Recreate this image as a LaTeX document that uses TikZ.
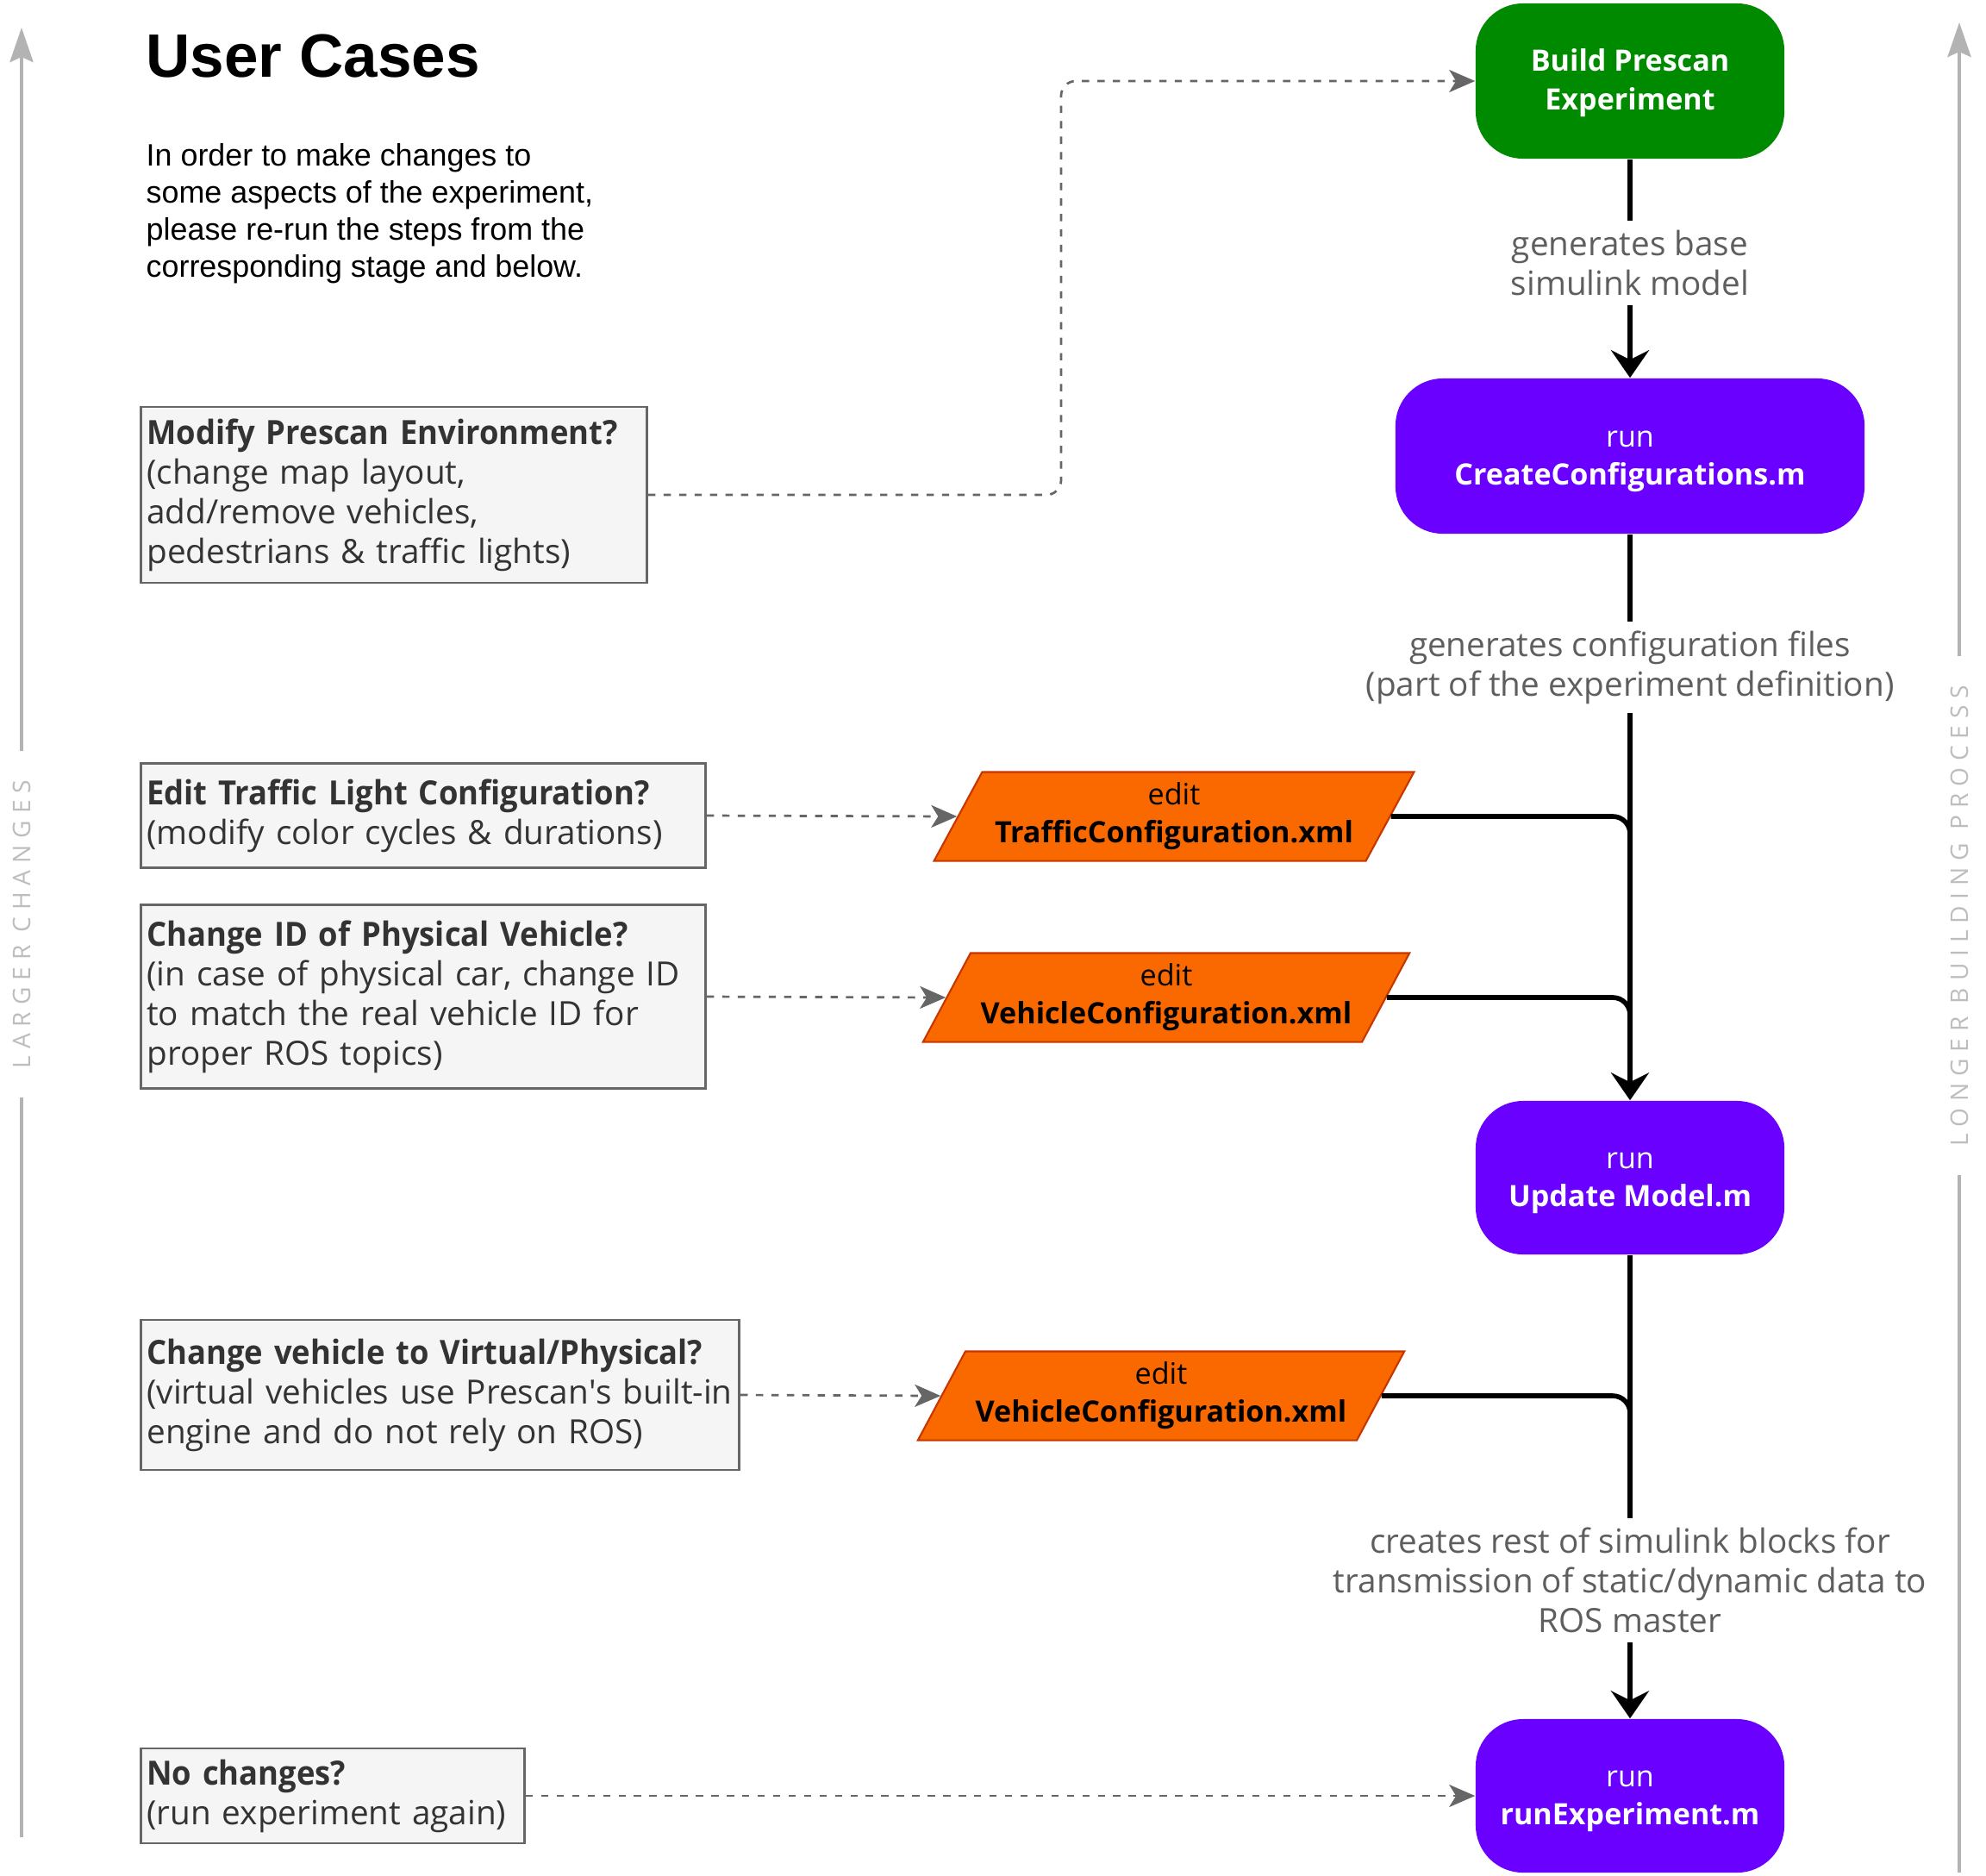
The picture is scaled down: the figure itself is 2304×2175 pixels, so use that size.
\documentclass[tikz,border=0pt]{standalone}
\usepackage{fontspec}
\setmainfont{Open Sans}
\newfontfamily\arialfont{Liberation Sans}
\newfontfamily\caseheadfont{Open Sans}[FakeStretch=0.94]
\newfontfamily\spacedfont{Open Sans}[LetterSpace=28]
\newcommand{\casetitle}[1]{{\caseheadfont\bfseries #1}}
\usetikzlibrary{arrows.meta,shapes.geometric}
\definecolor{buildgreen}{HTML}{008A00}
\definecolor{runpurple}{HTML}{6A00FF}
\definecolor{editorange}{HTML}{FA6800}
\definecolor{editborder}{HTML}{C73500}
\definecolor{casefill}{HTML}{F5F5F5}
\definecolor{caseline}{HTML}{666666}
\definecolor{casetext}{HTML}{333333}
\definecolor{notegray}{HTML}{5E5E5E}
\definecolor{sidegray}{HTML}{B3B3B3}
\definecolor{sidetext}{HTML}{BDBDBD}
\tikzset{
  stage/.style={rounded corners=0.55cm, minimum width=3.58cm, minimum height=1.8cm,
    align=center, text=white, font=\fontsize{9.7pt}{12.5pt}\selectfont,
    text height=0.78cm, text depth=0.12cm},
  editfile/.style={trapezium, trapezium left angle=61.5, trapezium right angle=118.5,
    trapezium stretches=true, minimum width=5.57cm, minimum height=1.03cm,
    fill=editorange, draw=editborder, line width=0.6pt, align=center,
    font=\fontsize{9.7pt}{12.5pt}\selectfont},
  usecase/.style={draw=caseline, fill=casefill, line width=0.75pt, text=casetext,
    align=left, anchor=west, inner sep=0.07cm, text width=#1,
    font=\fontsize{11pt}{13.1pt}\selectfont},
  note/.style={align=center, text=notegray, inner sep=0.1cm,
    font=\fontsize{11pt}{13.1pt}\selectfont},
  sidenote/.style={text=sidetext, rotate=90, inner xsep=0.33cm,
    font=\spacedfont\fontsize{8pt}{9pt}\selectfont},
  flow/.style={line width=1.6pt},
  flowarrow/.style={flow, -{Stealth[length=0.32cm, width=0.44cm, inset=0.11cm]}},
  hint/.style={draw=caseline, line width=0.77pt, dash pattern=on 2.4pt off 2.7pt,
    -{Stealth[length=0.3cm, width=0.26cm, inset=0.08cm]}, rounded corners=0.17cm},
  sideline/.style={draw=sidegray, line width=1.3pt},
}
\begin{document}
\begin{tikzpicture}[x=0.01cm, y=-0.01cm]
  \useasboundingbox (0,0) rectangle (2304,2175);
  % heading and intro
  \node[anchor=base west, inner sep=0, font=\arialfont\bfseries\fontsize{20.2pt}{24pt}\selectfont] (title) at (169,89) {User Cases};
  \node[anchor=north west, inner sep=0, align=left, font=\arialfont\fontsize{10.2pt}{12.2pt}\selectfont] (intro) at (169,166)
    {In order to make changes to\\some aspects of the experiment,\\please re-run the steps from the\\corresponding stage and below.};

  % user cases
  \node[usecase=5.73cm, minimum height=2.04cm] (modify) at (162,574)
    {\casetitle{Modify Prescan Environment?}\\(change map layout,\\add/remove vehicles,\\pedestrians \& traffic lights)};
  \node[usecase=6.41cm, minimum height=1.21cm] (editlight) at (162,946)
    {\casetitle{Edit Traffic Light Configuration?}\\(modify color cycles \& durations)};
  \node[usecase=6.41cm, minimum height=2.13cm] (changeid) at (162,1156)
    {\casetitle{Change ID of Physical Vehicle?}\\(in case of physical car, change ID\\to match the real vehicle ID for\\proper ROS topics)};
  \node[usecase=6.8cm, minimum height=1.74cm] (changetype) at (162,1618)
    {\casetitle{Change vehicle to Virtual/Physical?}\\(virtual vehicles use Prescan\textquotesingle s built-in\\engine and do not rely on ROS)};
  \node[usecase=4.31cm, minimum height=1.1cm] (nochange) at (162,2083)
    {\casetitle{No changes?}\\(run experiment again)};

  % build process
  \node[stage, fill=buildgreen, font=\bfseries\fontsize{9.7pt}{12.8pt}\selectfont] (build) at (1891,94) {Build Prescan\\Experiment};
  \node[stage, fill=runpurple, minimum width=5.44cm] (create) at (1891,529) {run\\\textbf{CreateConfigurations.m}};
  \node[stage, fill=runpurple, minimum height=1.78cm] (update) at (1891,1366) {run\\\textbf{Update Model.m}};
  \node[stage, fill=runpurple, minimum height=1.78cm] (run) at (1891,2083) {run\\\textbf{runExperiment.m}};

  \node[editfile] (traffic) at (1362,947) {edit\\\textbf{TrafficConfiguration.xml}};
  \node[editfile] (vehicle) at (1353,1157) {edit\\\textbf{VehicleConfiguration.xml}};
  \node[editfile] (virtual) at (1347,1619) {edit\\\textbf{VehicleConfiguration.xml}};

  \node[note] (basemodel) at (1891,305) {generates base\\simulink model};
  \node[note] (configfiles) at (1891,774) {generates configuration files\\(part of the experiment definition)};
  \node[note] (rosblocks) at (1891,1833) {creates rest of simulink blocks for\\transmission of static/dynamic data to\\ROS master};

  \coordinate (join1) at (1891,1215);
  \coordinate (join2) at (1891,1700);

  % side scales
  \node[sidenote] (larger) at (25,1072) {LARGER CHANGES};
  \coordinate (largertop) at (25,32);
  \coordinate (largerbot) at (25,2131);
  \node[sidenote] (longer) at (2273,1062) {LONGER BUILDING PROCESS};
  \coordinate (longertop) at (2273,26);
  \coordinate (longerbot) at (2273,2172);

  \draw[flow] (build) -- (basemodel);
  \draw[flowarrow] (basemodel) -- (create);
  \draw[flow] (create) -- (configfiles);
  \draw[flowarrow] (configfiles) -- (update);
  \draw[flow] (update) -- (rosblocks);
  \draw[flowarrow] (rosblocks) -- (run);
  \draw[flow, rounded corners=0.2cm] (traffic.east) -| (join1);
  \draw[flow, rounded corners=0.2cm] (vehicle.east) -| (join1);
  \draw[flow, rounded corners=0.2cm] (virtual.east) -| (join2);

  \draw[hint] (modify.east) -- ++(479,0) |- (build.west);
  \draw[hint] (editlight.east) -- (traffic.west);
  \draw[hint] (changeid.east) -- (vehicle.west);
  \draw[hint] (changetype.east) -- (virtual.west);
  \draw[hint] (nochange.east) -- (run.west);

  \draw[sideline, -{Stealth[length=0.4cm, width=0.27cm, inset=0.06cm]}] (larger) -- (largertop);
  \draw[sideline] (larger) -- (largerbot);
  \draw[sideline, -{Stealth[length=0.4cm, width=0.27cm, inset=0.06cm]}] (longer) -- (longertop);
  \draw[sideline] (longer) -- (longerbot);
\end{tikzpicture}
\end{document}
